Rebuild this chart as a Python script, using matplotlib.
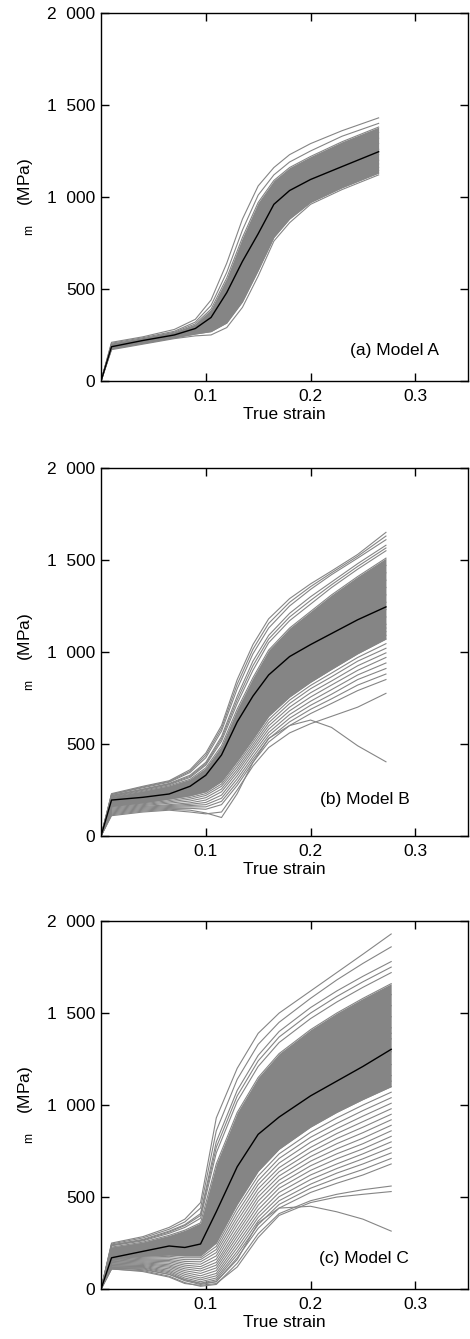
import numpy as np
import matplotlib
matplotlib.use('Agg')
import matplotlib.pyplot as plt
from matplotlib.ticker import FuncFormatter

plt.rcParams['font.family'] = ['Liberation Sans', 'DejaVu Sans']
plt.rcParams['font.size'] = 12.5
plt.rcParams['mathtext.fontset'] = 'custom'
plt.rcParams['mathtext.rm'] = 'Liberation Sans'

# ---- Model A ----
eps_a = [0, 0.01, 0.04, 0.07, 0.09, 0.105, 0.12, 0.135, 0.15, 0.165, 0.18, 0.2, 0.23, 0.265]
mean_a = [0, 186, 220, 250, 285, 345, 480, 650, 800, 960, 1035, 1095, 1165, 1246]
runs_a = [
    [0, 210, 240, 280, 335, 440, 640, 880, 1060, 1160, 1230, 1290, 1360, 1430],
    [0, 205, 235, 270, 320, 410, 590, 820, 1010, 1120, 1190, 1250, 1330, 1400],
    [0, 200, 230, 265, 310, 390, 560, 780, 970, 1090, 1160, 1220, 1300, 1380],
    [0, 198, 228, 260, 300, 375, 530, 730, 920, 1060, 1130, 1190, 1270, 1350],
    [0, 195, 225, 258, 295, 365, 505, 690, 870, 1020, 1100, 1160, 1240, 1320],
    [0, 192, 222, 255, 290, 355, 490, 665, 830, 990, 1070, 1130, 1210, 1290],
    [0, 190, 220, 252, 287, 345, 470, 640, 800, 960, 1040, 1100, 1180, 1260],
    [0, 188, 218, 250, 282, 335, 450, 610, 770, 930, 1010, 1075, 1150, 1230],
    [0, 185, 215, 246, 278, 325, 430, 580, 740, 900, 985, 1050, 1125, 1200],
    [0, 182, 212, 243, 272, 312, 405, 545, 705, 870, 960, 1030, 1100, 1180],
    [0, 180, 210, 240, 268, 300, 380, 510, 670, 840, 935, 1010, 1085, 1160],
    [0, 177, 207, 237, 262, 285, 350, 470, 630, 810, 910, 990, 1070, 1145],
    [0, 174, 204, 234, 255, 268, 315, 430, 600, 780, 880, 970, 1050, 1130],
    [0, 170, 200, 230, 245, 250, 290, 400, 570, 760, 860, 960, 1040, 1120],
]

# ---- Model B ----
eps_b = [0, 0.01, 0.04, 0.065, 0.085, 0.1, 0.115, 0.13, 0.145, 0.16, 0.18, 0.2, 0.22, 0.245, 0.272]
mean_b = [0, 195, 210, 228, 270, 330, 440, 620, 760, 875, 975, 1040, 1100, 1175, 1245]
runs_b = [
    [0, 230, 270, 300, 360, 450, 600, 850, 1040, 1180, 1290, 1370, 1440, 1530, 1650],
    [0, 226, 266, 296, 352, 438, 585, 825, 1015, 1155, 1270, 1355, 1430, 1520, 1630],
    [0, 225, 262, 292, 345, 425, 570, 800, 990, 1130, 1250, 1340, 1420, 1510, 1610],
    [0, 220, 255, 285, 330, 400, 540, 760, 950, 1090, 1210, 1300, 1380, 1480, 1580],
    [0, 218, 252, 282, 324, 392, 528, 740, 925, 1070, 1190, 1280, 1365, 1465, 1565],
    [0, 215, 248, 278, 318, 385, 515, 720, 900, 1050, 1170, 1260, 1350, 1450, 1550],
    [0, 212, 243, 272, 308, 370, 490, 690, 860, 1010, 1130, 1220, 1310, 1410, 1510],
    [0, 208, 238, 266, 300, 358, 470, 660, 820, 970, 1090, 1180, 1270, 1370, 1470],
    [0, 205, 233, 260, 292, 345, 450, 630, 790, 930, 1050, 1140, 1230, 1330, 1430],
    [0, 200, 228, 254, 285, 335, 435, 605, 760, 890, 1010, 1100, 1190, 1290, 1390],
    [0, 196, 224, 248, 278, 325, 420, 580, 730, 860, 970, 1060, 1150, 1250, 1350],
    [0, 192, 218, 242, 270, 312, 400, 555, 700, 830, 940, 1030, 1110, 1210, 1310],
    [0, 188, 213, 236, 262, 300, 385, 530, 670, 800, 910, 1000, 1080, 1170, 1270],
    [0, 184, 208, 230, 255, 290, 370, 505, 640, 770, 880, 970, 1050, 1140, 1230],
    [0, 180, 202, 224, 248, 280, 355, 480, 610, 740, 850, 940, 1020, 1110, 1190],
    [0, 175, 196, 218, 240, 268, 335, 455, 580, 710, 820, 905, 980, 1070, 1150],
    [0, 172, 192, 214, 235, 262, 325, 442, 568, 695, 805, 888, 962, 1050, 1130],
    [0, 168, 188, 210, 230, 255, 315, 430, 555, 680, 790, 870, 945, 1030, 1110],
    [0, 164, 184, 205, 224, 248, 305, 418, 540, 665, 772, 852, 925, 1010, 1090],
    [0, 160, 180, 200, 218, 240, 295, 405, 525, 650, 755, 835, 905, 990, 1070],
    [0, 155, 175, 192, 209, 230, 282, 390, 510, 632, 738, 818, 885, 970, 1045],
    [0, 150, 170, 185, 200, 220, 270, 375, 495, 615, 720, 800, 865, 950, 1020],
    [0, 145, 165, 178, 190, 208, 255, 360, 480, 598, 700, 778, 842, 925, 995],
    [0, 140, 160, 170, 180, 195, 240, 345, 465, 580, 680, 755, 820, 900, 970],
    [0, 135, 155, 165, 172, 182, 222, 328, 448, 562, 660, 732, 795, 875, 940],
    [0, 130, 150, 160, 165, 170, 205, 310, 430, 545, 640, 710, 770, 850, 910],
    [0, 125, 145, 155, 158, 158, 188, 292, 415, 528, 620, 688, 745, 820, 880],
    [0, 120, 140, 150, 150, 145, 170, 275, 400, 510, 600, 665, 720, 790, 850],
    [0, 110, 130, 140, 130, 120, 130, 250, 380, 480, 560, 610, 650, 700, 775],
    [0, 115, 135, 145, 140, 125, 100, 230, 400, 530, 600, 630, 590, 490, 403],
]

# ---- Model C ----
eps_c = [0, 0.01, 0.04, 0.065, 0.08, 0.095, 0.11, 0.13, 0.15, 0.17, 0.2, 0.225, 0.25, 0.277]
mean_c = [0, 170, 205, 234, 226, 245, 420, 665, 841, 935, 1050, 1130, 1210, 1303]
runs_c = [
    [0, 250, 285, 335, 380, 470, 930, 1200, 1390, 1500, 1620, 1720, 1820, 1930],
    [0, 245, 278, 325, 365, 440, 860, 1140, 1330, 1450, 1580, 1680, 1770, 1860],
    [0, 240, 270, 315, 350, 410, 800, 1080, 1270, 1400, 1530, 1620, 1700, 1780],
    [0, 238, 266, 310, 345, 400, 770, 1050, 1240, 1370, 1500, 1590, 1670, 1750],
    [0, 235, 262, 303, 335, 385, 740, 1020, 1210, 1340, 1470, 1560, 1640, 1720],
    [0, 228, 255, 292, 320, 360, 680, 960, 1150, 1280, 1410, 1500, 1580, 1660],
    [0, 222, 248, 282, 305, 335, 620, 900, 1090, 1220, 1350, 1440, 1520, 1600],
    [0, 215, 240, 272, 290, 310, 560, 840, 1030, 1160, 1290, 1380, 1460, 1540],
    [0, 208, 232, 262, 275, 290, 510, 780, 970, 1100, 1230, 1320, 1400, 1480],
    [0, 200, 225, 252, 262, 275, 460, 720, 910, 1040, 1170, 1260, 1340, 1420],
    [0, 200, 222, 248, 258, 268, 440, 700, 885, 1010, 1140, 1230, 1310, 1390],
    [0, 192, 216, 240, 248, 258, 415, 665, 855, 980, 1110, 1200, 1280, 1360],
    [0, 185, 207, 228, 232, 240, 370, 610, 800, 920, 1050, 1140, 1220, 1290],
    [0, 178, 198, 215, 215, 220, 330, 560, 745, 865, 990, 1080, 1150, 1220],
    [0, 170, 188, 200, 198, 200, 290, 510, 690, 810, 935, 1020, 1090, 1160],
    [0, 165, 183, 193, 190, 190, 270, 485, 665, 785, 905, 990, 1060, 1130],
    [0, 162, 178, 185, 180, 180, 250, 460, 640, 760, 880, 960, 1030, 1100],
    [0, 158, 173, 178, 170, 170, 232, 438, 615, 735, 852, 930, 1000, 1070],
    [0, 155, 168, 170, 160, 160, 215, 415, 590, 710, 825, 900, 970, 1040],
    [0, 151, 163, 162, 150, 148, 198, 392, 568, 685, 798, 872, 940, 1010],
    [0, 148, 158, 155, 140, 135, 180, 370, 545, 660, 770, 845, 910, 980],
    [0, 144, 153, 148, 130, 122, 162, 348, 522, 638, 745, 818, 880, 950],
    [0, 140, 148, 140, 120, 110, 145, 325, 500, 615, 720, 790, 850, 920],
    [0, 136, 143, 132, 110, 98, 130, 305, 478, 592, 695, 762, 820, 890],
    [0, 132, 138, 125, 100, 85, 115, 285, 455, 570, 670, 735, 790, 860],
    [0, 128, 133, 118, 90, 72, 100, 265, 432, 548, 645, 708, 762, 830],
    [0, 125, 128, 110, 80, 60, 85, 245, 410, 525, 620, 680, 735, 800],
    [0, 121, 123, 102, 70, 50, 72, 225, 390, 502, 595, 655, 708, 770],
    [0, 118, 118, 95, 60, 40, 60, 205, 370, 480, 570, 630, 680, 740],
    [0, 115, 114, 88, 52, 32, 50, 188, 350, 460, 548, 602, 650, 710],
    [0, 112, 110, 80, 45, 25, 40, 170, 330, 440, 525, 575, 620, 680],
    [0, 108, 100, 70, 35, 15, 25, 140, 300, 410, 480, 515, 540, 560],
    [0, 115, 105, 80, 50, 30, 40, 160, 360, 440, 450, 420, 380, 315],
    [0, 110, 95, 65, 30, 20, 30, 120, 280, 400, 470, 500, 515, 530],
]

labels = ['(a) Model A', '(b) Model B', '(c) Model C']
label_pos = [(0.80, 0.084), (0.72, 0.098), (0.717, 0.082)]
core_band = [(2, 12), (6, 19), (5, 16)]  # densest block of runs, drawn as a solid patch
bottoms = [0.7155, 0.3757, 0.0373]

grey = '#858585'
fig = plt.figure(figsize=(4.70, 13.39), dpi=100)

data = [(eps_a, mean_a, runs_a), (eps_b, mean_b, runs_b), (eps_c, mean_c, runs_c)]
for (eps, mean, runs), lab, lp, band, b in zip(data, labels, label_pos, core_band, bottoms):
    ax = fig.add_axes([0.215, b, 0.78, 0.2748])
    runs = np.array(runs)
    ax.fill_between(eps, runs[band[1]], runs[band[0]], color=grey, lw=0)
    for r in runs:
        ax.plot(eps, r, color=grey, lw=0.8)
    ax.plot(eps, mean, color='black', lw=1.0)
    ax.set_xlim(0, 0.35)
    ax.set_ylim(0, 2000)
    ax.set_xticks([0.1, 0.2, 0.3])
    ax.set_yticks([0, 500, 1000, 1500, 2000])
    ax.yaxis.set_major_formatter(FuncFormatter(lambda v, p: f'{int(v):,}'.replace(',', '\u2007')))
    ax.tick_params(direction='in', top=True, right=True, length=6, width=1, labelsize=12.5)
    ax.tick_params(axis='x', pad=6)
    ax.tick_params(axis='y', pad=4)
    for s in ax.spines.values():
        s.set_linewidth(1.0)
    ax.set_xlabel('True strain', fontsize=12.5, labelpad=2)
    ax.set_ylabel('$_{\\mathrm{m}}$    (MPa)', fontsize=12.5)
    ax.yaxis.set_label_coords(-0.18, 0.5)
    ax.text(lp[0], lp[1], lab, transform=ax.transAxes, ha='center', va='center', fontsize=12.5)

fig.savefig('out.png', dpi=100)
